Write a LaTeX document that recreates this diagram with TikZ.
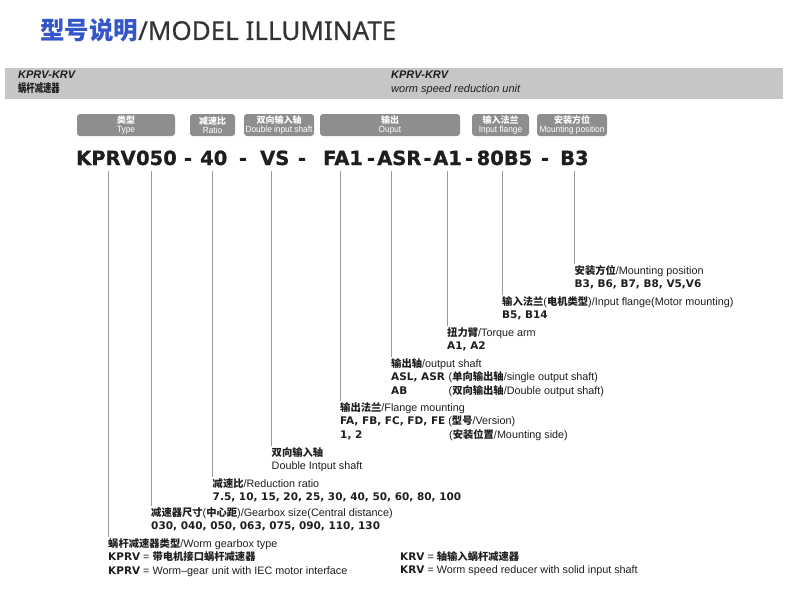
\documentclass[tikz,border=0pt]{standalone}
\usepackage{fontspec}
\setmainfont{Liberation Sans}
\newfontfamily\cjk{Noto Sans CJK SC}
\newfontfamily\cjknarrow[FakeStretch=0.72]{Noto Sans CJK SC}
\newfontfamily\narrow[FakeStretch=0.92]{Liberation Sans}
\newfontfamily\heavy{DejaVu Sans}
\newfontfamily\codefont[UprightFont={* Bold}, FakeBold=1]{DejaVu Sans}
\newfontfamily\titlefont[FakeBold=0.4]{Noto Sans}
\usetikzlibrary{positioning}
\definecolor{titleblue}{HTML}{3556C6}
\definecolor{titlegray}{HTML}{333333}
\definecolor{band}{HTML}{C6C6C6}
\definecolor{tabfill}{HTML}{8E8E8E}
\definecolor{leadline}{HTML}{9A9A9A}
\definecolor{ink}{HTML}{1E1E1E}
\newcommand\zh[1]{{\cjk\bfseries\fontsize{10.3}{13.5}\selectfont #1}}
\newcommand\hv[1]{{\heavy\bfseries\fontsize{10.5}{13.5}\selectfont #1}}

\begin{document}
\begin{tikzpicture}[
    x=1pt, y=-1pt,
    code/.style={font=\codefont\fontsize{19.5}{20}\selectfont, text=ink,
                 inner xsep=0pt, inner ysep=6pt, anchor=base west},
    tab/.style={fill=tabfill, rounded corners=3pt, text=white, align=center,
                inner sep=0pt, minimum height=22pt,
                font=\narrow\fontsize{9}{9}\selectfont},
    bandtext/.style={anchor=north west, align=left, inner sep=0pt, text=ink,
                     font=\fontsize{11}{14}\selectfont},
    lbl/.style={anchor=north west, align=left, inner xsep=0pt, inner ysep=1pt,
                text=ink, font=\fontsize{10.8}{13.5}\selectfont},
    leader/.style={draw=leadline, line width=0.8pt},
]
\useasboundingbox (0,0) rectangle (790,594);

% Title
\node[anchor=base west, inner sep=0pt] (title) at (40,40)
    {{\cjk\bfseries\fontsize{24.5}{26}\selectfont\color{titleblue}型号说明}%
     {\titlefont\fontsize{26}{26}\selectfont\color{titlegray}/MODEL ILLUMINATE}};

% Grey band with series name
\node[fill=band, minimum width=778pt, minimum height=31pt, inner sep=0pt,
      anchor=north west] (band) at (5,68) {};
\node[bandtext] (bandleft) at (18,71)
    {{\bfseries\itshape KPRV-KRV}\\{\cjknarrow\bfseries\fontsize{11.5}{14}\selectfont 蜗杆减速器}};
\node[bandtext] (bandright) at (391,71)
    {{\bfseries\itshape KPRV-KRV}\\{\itshape worm speed reduction unit}};

% Header tabs
\node[tab, minimum width=98pt] (tabtype) at (126,125) {{\cjk\bfseries 类型}\\Type};
\node[tab, minimum width=45pt] (tabratio) at (212.5,125) {{\cjk\bfseries 减速比}\\Ratio};
\node[tab, minimum width=70pt] (tabdouble) at (279,125) {{\cjk\bfseries 双向输入轴}\\Double input shaft};
\node[tab, minimum width=140pt] (tabout) at (390,125) {{\cjk\bfseries 输出}\\Ouput};
\node[tab, minimum width=57pt] (tabinput) at (500.5,125) {{\cjk\bfseries 输入法兰}\\Input flange};
\node[tab, minimum width=70pt] (tabmount) at (572,125) {{\cjk\bfseries 安装方位}\\Mounting position};

% Model code
\node[code] (kprv) at (76,165) {KPRV};
\node[code] (size) at (kprv.base east) {050};
\node[code] (ratio) at (200,165) {40};
\node[code] (vs) at (260,165) {VS};
\node[code] (fa) at (323,165) {FA1};
\node[code] (asr) at (377,165) {ASR};
\node[code] (arm) at (433,165) {A1};
\node[code] (flange) at (476.5,165) {80B5};
\node[code] (pos) at (560,165) {B3};
\foreach \dx/\dn in {188/d1, 243/d2, 302/d3, 371/d4, 427.5/d5, 469/d6, 545/d7}
    \node[code, anchor=base] (\dn) at (\dx,165) {-};

% Explanations
\node[lbl] (mpos) at (574.5,264)
    {\zh{安装方位}/Mounting position\\\hv{B3, B6, B7, B8, V5,V6}};
\node[lbl] (inflange) at (502,295)
    {\zh{输入法兰}(\zh{电机类型})/Input flange(Motor mounting)\\\hv{B5, B14}};
\node[lbl] (torque) at (447,326)
    {\zh{扭力臂}/Torque arm\\\hv{A1, A2}};
\node[lbl] (outshaft) at (391,357)
    {\zh{输出轴}/output shaft\\
     \makebox[57.5pt][l]{\hv{ASL, ASR}}(\zh{单向输出轴}/single output shaft)\\
     \makebox[57.5pt][l]{\hv{AB}}(\zh{双向输出轴}/Double output shaft)};
\node[lbl] (flangemt) at (340,401)
    {\zh{输出法兰}/Flange mounting\\
     \hv{FA, FB, FC, FD, FE} (\zh{型号}/Version)\\
     \makebox[109pt][l]{\hv{1, 2}}(\zh{安装位置}/Mounting side)};
\node[lbl] (dshaft) at (271.5,446)
    {\zh{双向输入轴}\\Double Intput shaft};
\node[lbl] (redratio) at (212.5,477)
    {\zh{减速比}/Reduction ratio\\\hv{7.5, 10, 15, 20, 25, 30, 40, 50, 60, 80, 100}};
\node[lbl] (gbsize) at (151,506)
    {\zh{减速器尺寸}(\zh{中心距})/Gearbox size(Central distance)\\
     \hv{030, 040, 050, 063, 075, 090, 110, 130}};
\node[lbl] (gbtype) at (108,537)
    {\zh{蜗杆减速器类型}/Worm gearbox type\\
     \hv{KPRV} = \zh{带电机接口蜗杆减速器}\\
     \hv{KPRV} = Worm–gear unit with IEC motor interface};
\node[lbl] (krv) at (400,550)
    {\hv{KRV} = \zh{轴输入蜗杆减速器}\\
     \hv{KRV} = Worm speed reducer with solid input shaft};

% Leader lines
\draw[leader] (kprv.south -| gbtype.north west) -- (gbtype.north west);
\draw[leader] (size.south -| gbsize.north west) -- (gbsize.north west);
\draw[leader] (ratio.south -| redratio.north west) -- (redratio.north west);
\draw[leader] (vs.south -| dshaft.north west) -- (dshaft.north west);
\draw[leader] (fa.south -| flangemt.north west) -- (flangemt.north west);
\draw[leader] (asr.south -| outshaft.north west) -- (outshaft.north west);
\draw[leader] (arm.south -| torque.north west) -- (torque.north west);
\draw[leader] (flange.south -| inflange.north west) -- (inflange.north west);
\draw[leader] (pos.south -| mpos.north west) -- (mpos.north west);

\end{tikzpicture}
\end{document}
